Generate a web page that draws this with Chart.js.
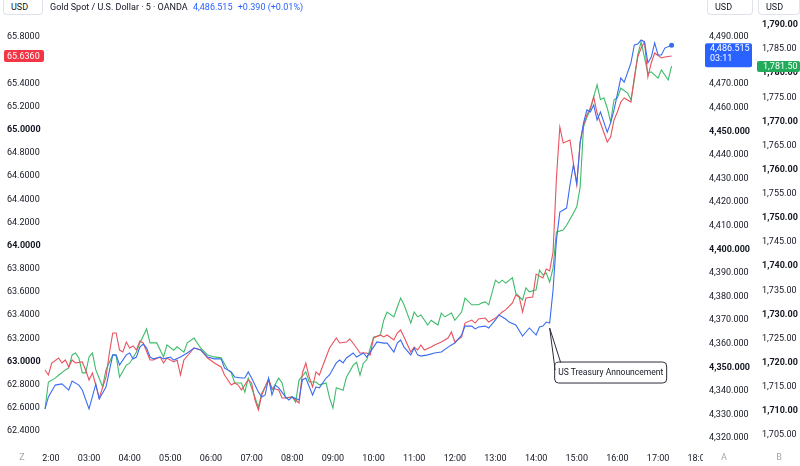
<!DOCTYPE html>
<html><head><meta charset="utf-8">
<script src="https://cdn.jsdelivr.net/npm/chart.js@4.4.1/dist/chart.umd.min.js"></script>
<style>
html,body{margin:0;padding:0;background:#fff;}
#wrap{position:relative;width:800px;height:466px;font-family:Roboto,"Liberation Sans",sans-serif;overflow:hidden;}
canvas{position:absolute;left:0;top:0;}
.hdr{position:absolute;top:0;font-size:9px;color:#131722;white-space:nowrap;line-height:14px}
.usd{position:absolute;top:0;height:15px;border:1px solid #e0e3eb;border-top:none;border-radius:0 0 4px 4px;font-size:9px;line-height:14px;color:#131722;box-sizing:border-box;padding-left:7px;background:#fff}
</style></head>
<body><div id="wrap"><canvas id="c" width="800" height="466"></canvas>
<div class="usd" style="left:3px;width:40px">USD</div>
<div class="usd" style="left:707px;width:46px">USD</div>
<div class="usd" style="left:758px;width:42px">USD</div>
<div class="hdr" style="left:50px">Gold Spot / U.S. Dollar · 5 · OANDA <span style="color:#2962ff;margin-left:3px">4,486.515</span> <span style="color:#2962ff;margin-left:3px">+0.390 (+0.01%)</span></div>
</div>
<script>
// ---- DATA ----
const hourTicks = [2,3,4,5,6,7,8,9,10,11,12,13,14,15,16,17,18];
const redTicks = [62.4,62.6,62.8,63.0,63.2,63.4,63.6,63.8,64.0,64.2,64.4,64.6,64.8,65.0,65.2,65.4,65.6,65.8];
const goldTicks = [4320,4330,4340,4350,4360,4370,4380,4390,4400,4410,4420,4430,4440,4450,4460,4470,4480,4490];
const greenTicks = [1705,1710,1715,1720,1725,1730,1735,1740,1745,1750,1755,1760,1765,1770,1775,1780,1785,1790];

// Gold Spot / U.S. Dollar (blue, middle right scale)
const goldSeries = [["01:55",4332.4],["02:00",4337.5],["02:10",4342.5],["02:20",4343.0],["02:30",4340.4],["02:35",4344.2],["02:45",4342.5],["02:50",4340.4],["03:00",4332.4],["03:10",4343.0],["03:15",4336.6],["03:25",4341.7],["03:35",4355.3],["03:40",4355.3],["03:45",4351.0],["03:55",4355.3],["04:00",4356.1],["04:05",4353.6],["04:10",4354.4],["04:15",4358.6],["04:20",4359.9],["04:25",4358.2],["04:30",4354.4],["04:35",4353.6],["04:45",4354.4],["04:50",4353.6],["05:00",4354.4],["05:05",4353.1],["05:15",4354.4],["05:25",4356.1],["05:35",4358.2],["05:45",4357.4],["05:55",4354.4],["06:05",4353.6],["06:15",4353.6],["06:20",4349.7],["06:30",4348.1],["06:35",4345.9],["06:45",4345.5],["06:50",4345.5],["06:55",4348.1],["07:00",4345.5],["07:10",4339.6],["07:15",4337.5],["07:20",4338.3],["07:25",4345.5],["07:30",4338.3],["07:35",4342.5],["07:40",4341.3],["07:50",4337.5],["07:55",4336.2],["08:00",4337.5],["08:10",4336.2],["08:15",4344.7],["08:20",4345.5],["08:30",4338.3],["08:35",4341.7],["08:40",4341.3],["08:50",4345.5],["08:55",4346.8],["09:05",4351.9],["09:10",4353.1],["09:15",4351.9],["09:20",4354.0],["09:30",4356.1],["09:35",4354.4],["09:45",4356.1],["09:50",4354.4],["10:00",4358.6],["10:05",4360.8],["10:15",4360.3],["10:20",4360.3],["10:30",4356.5],["10:35",4360.3],["10:40",4361.6],["10:45",4358.6],["10:55",4355.3],["11:00",4358.2],["11:05",4355.3],["11:10",4354.8],["11:20",4355.3],["11:30",4356.1],["11:40",4356.5],["11:50",4358.6],["11:55",4359.5],["12:00",4360.3],["12:10",4363.7],["12:15",4367.5],["12:25",4367.5],["12:30",4366.3],["12:35",4367.1],["12:45",4367.5],["12:50",4366.7],["13:00",4370.1],["13:05",4372.2],["13:15",4370.5],["13:20",4369.2],["13:30",4368.0],["13:40",4363.3],["13:45",4365.0],["13:50",4366.7],["14:00",4363.7],["14:05",4367.1],["14:10",4367.5],["14:15",4369.2],["14:20",4368.8],["14:25",4382.8],["14:30",4404.0],["14:35",4415.8],["14:45",4417.5],["14:50",4427.3],["14:55",4435.8],["15:00",4428.1],["15:05",4445.1],["15:10",4453.6],["15:15",4459.1],["15:20",4458.2],["15:25",4461.2],["15:30",4454.8],["15:35",4458.2],["15:45",4449.7],["15:50",4453.6],["15:55",4459.1],["16:05",4472.6],["16:10",4470.9],["16:20",4479.0],["16:25",4486.6],["16:30",4487.0],["16:35",4488.7],["16:40",4487.9],["16:45",4479.0],["16:50",4481.5],["16:55",4487.5],["17:00",4482.4],["17:05",4482.4],["17:10",4485.3],["17:20",4486.515]];

// red series (left scale)
const redSeries = [["01:55",62.927],["02:00",62.884],["02:05",62.987],["02:15",63.030],["02:20",62.987],["02:25",63.013],["02:30",62.953],["02:35",63.013],["02:40",62.987],["02:50",62.996],["02:55",62.927],["03:00",62.841],["03:05",62.901],["03:10",62.797],["03:15",62.685],["03:25",62.866],["03:30",63.073],["03:35",63.246],["03:40",63.246],["03:45",63.099],["03:50",63.082],["03:55",63.168],["04:00",63.117],["04:05",63.134],["04:10",63.099],["04:15",63.177],["04:20",63.160],["04:30",63.013],["04:35",63.013],["04:45",63.039],["04:50",62.987],["04:55",63.030],["05:05",62.996],["05:10",63.013],["05:15",62.884],["05:20",63.013],["05:30",63.082],["05:35",63.117],["05:45",63.099],["05:55",63.030],["06:05",62.987],["06:15",62.953],["06:20",62.884],["06:30",62.797],["06:35",62.815],["06:40",62.797],["06:45",62.754],["06:55",62.841],["07:00",62.815],["07:05",62.668],["07:10",62.582],["07:15",62.711],["07:25",62.849],["07:30",62.772],["07:40",62.754],["07:45",62.685],["07:50",62.685],["08:00",62.694],["08:10",62.642],["08:15",62.901],["08:20",62.987],["08:25",62.866],["08:30",62.780],["08:35",62.910],["08:40",62.884],["08:50",63.039],["08:55",63.117],["09:05",63.203],["09:10",63.160],["09:20",63.168],["09:25",63.194],["09:35",63.117],["09:40",63.073],["09:50",63.073],["09:55",63.056],["10:00",63.203],["10:10",63.229],["10:15",63.212],["10:20",63.229],["10:30",63.186],["10:35",63.246],["10:40",63.272],["10:45",63.212],["10:55",63.082],["11:00",63.125],["11:05",63.099],["11:10",63.143],["11:15",63.099],["11:25",63.125],["11:30",63.143],["11:40",63.168],["11:50",63.203],["11:55",63.255],["12:00",63.168],["12:10",63.212],["12:15",63.332],["12:25",63.358],["12:30",63.332],["12:35",63.367],["12:45",63.375],["12:50",63.341],["13:00",63.375],["13:05",63.401],["13:10",63.427],["13:15",63.445],["13:25",63.505],["13:30",63.574],["13:35",63.557],["13:40",63.427],["13:45",63.548],["13:55",63.557],["14:00",63.755],["14:10",63.721],["14:15",63.798],["14:20",63.781],["14:25",63.945],["14:30",64.583],["14:35",65.023],["14:40",64.885],["14:50",64.911],["14:55",64.713],["15:00",64.523],["15:05",64.894],["15:10",65.041],["15:15",65.127],["15:20",65.187],["15:25",65.282],["15:30",65.144],["15:35",65.058],["15:45",64.894],["15:50",64.937],["15:55",65.084],["16:00",65.153],["16:05",65.239],["16:10",65.274],["16:20",65.239],["16:25",65.455],["16:30",65.627],["16:35",65.705],["16:40",65.757],["16:45",65.455],["16:50",65.576],["16:55",65.662],["17:05",65.619],["17:10",65.627],["17:20",65.636]];

// green series (far right scale)
const greenSeries = [["01:55",1710.4],["02:00",1716.0],["02:10",1716.8],["02:15",1717.4],["02:25",1718.5],["02:30",1718.9],["02:35",1721.6],["02:40",1722.0],["02:45",1721.0],["02:50",1717.9],["02:55",1717.9],["03:00",1721.2],["03:05",1722.0],["03:10",1718.5],["03:20",1715.0],["03:25",1718.5],["03:35",1721.6],["03:40",1721.4],["03:45",1717.0],["03:55",1719.5],["04:00",1719.9],["04:10",1722.2],["04:15",1724.1],["04:25",1727.0],["04:30",1724.1],["04:40",1724.1],["04:50",1721.2],["04:55",1723.7],["05:05",1722.6],["05:10",1723.3],["05:20",1722.2],["05:25",1724.1],["05:35",1725.1],["05:45",1723.0],["05:55",1721.6],["06:05",1721.2],["06:15",1721.0],["06:25",1718.5],["06:30",1717.9],["06:35",1715.8],["06:45",1715.8],["06:50",1713.9],["06:55",1716.8],["07:00",1714.8],["07:10",1710.8],["07:15",1713.7],["07:25",1716.4],["07:30",1714.3],["07:40",1716.8],["07:45",1715.8],["07:50",1712.7],["08:00",1712.9],["08:05",1711.8],["08:10",1716.4],["08:20",1718.1],["08:25",1716.0],["08:35",1716.0],["08:40",1715.4],["08:50",1715.8],["08:55",1712.7],["09:00",1710.6],["09:05",1714.8],["09:15",1714.3],["09:20",1717.0],["09:30",1719.5],["09:35",1720.1],["09:40",1717.4],["09:45",1719.9],["09:50",1720.6],["10:00",1725.3],["10:05",1725.5],["10:10",1725.7],["10:15",1728.8],["10:20",1730.5],["10:30",1729.5],["10:35",1731.5],["10:40",1733.4],["10:45",1732.0],["10:55",1728.2],["11:00",1730.5],["11:05",1729.5],["11:10",1729.9],["11:20",1727.8],["11:25",1728.8],["11:35",1727.8],["11:40",1730.3],["11:45",1729.5],["11:55",1730.3],["12:00",1728.8],["12:10",1730.5],["12:15",1733.4],["12:25",1732.0],["12:35",1732.0],["12:40",1732.4],["12:45",1732.6],["12:50",1732.0],["13:00",1737.1],["13:05",1736.5],["13:10",1737.1],["13:15",1736.5],["13:25",1737.6],["13:30",1734.4],["13:40",1733.0],["13:45",1735.5],["13:50",1734.7],["14:00",1735.1],["14:05",1739.2],["14:10",1738.2],["14:15",1738.6],["14:20",1736.7],["14:25",1739.6],["14:30",1747.1],["14:40",1747.5],["14:45",1748.5],["14:55",1751.0],["15:00",1752.3],["15:05",1756.4],["15:10",1768.9],["15:15",1770.9],["15:20",1772.4],["15:25",1775.1],["15:30",1777.6],["15:35",1774.5],["15:40",1774.9],["15:45",1772.8],["15:50",1769.9],["15:55",1774.5],["16:00",1774.9],["16:05",1776.9],["16:15",1775.9],["16:20",1774.5],["16:25",1778.6],["16:30",1783.8],["16:35",1786.5],["16:45",1780.0],["16:50",1780.3],["17:00",1779.0],["17:05",1780.7],["17:15",1778.6],["17:20",1781.5]];

const announcement = { time: "14:20", text: "US Treasury Announcement" };
const countdown = "03:11";

// ---- helpers ----
const toHour = t => { const [h, m] = t.split(":").map(Number); return h + m / 60; };
const toPoints = s => s.map(([t, v]) => ({ x: toHour(t), y: v }));
const fmtComma = (v, d) => v.toLocaleString("en-US", { minimumFractionDigits: d, maximumFractionDigits: d });

const FONT = "Roboto";
Chart.defaults.font.family = FONT;

const lastGold = goldSeries[goldSeries.length - 1][1];
const lastRed = redSeries[redSeries.length - 1][1];
const lastGreen = greenSeries[greenSeries.length - 1][1];

const overlay = {
  id: "overlay",
  afterDraw(chart) {
    const { ctx, chartArea: a, scales } = chart;
    const W = chart.width, H = chart.height;
    ctx.save();
    ctx.fillStyle = "#fff";
    ctx.fillRect(0, a.bottom + 1, a.left, H - a.bottom);
    ctx.fillRect(a.right, a.bottom + 1, W - a.right, H - a.bottom);
    ctx.font = "9px " + FONT;
    ctx.fillStyle = "#a3a6af";
    ctx.textAlign = "center";
    ctx.textBaseline = "middle";
    ctx.fillText("Z", 22, 458);
    ctx.fillText("A", 724, 458);
    ctx.fillText("B", 779, 458);

    ctx.textAlign = "left";
    ctx.font = "9px " + FONT;
    const yr = scales.yRed.getPixelForValue(lastRed);
    ctx.fillStyle = "#f23645";
    ctx.beginPath(); ctx.roundRect(4, yr - 6, 40, 12, 2); ctx.fill();
    ctx.fillStyle = "#fff";
    ctx.fillText(lastRed.toFixed(4), 7, yr + 0.5);

    const yg = scales.yGold.getPixelForValue(lastGold);
    ctx.fillStyle = "#2962ff";
    ctx.beginPath(); ctx.roundRect(705, yg - 2, 47, 24, 2); ctx.fill();
    ctx.fillStyle = "#fff";
    ctx.fillText(fmtComma(lastGold, 3), 710, yg + 3.5);
    ctx.fillText(countdown, 710, yg + 13.5);

    const yp = scales.yGreen.getPixelForValue(lastGreen);
    ctx.fillStyle = "#22ab5a";
    ctx.beginPath(); ctx.roundRect(757, yp - 5, 43, 11, 2); ctx.fill();
    ctx.fillStyle = "#fff";
    ctx.fillText(fmtComma(lastGreen, 2), 763, yp + 1);

    const gv = goldSeries.find(p => p[0] === announcement.time)[1];
    const ax = scales.x.getPixelForValue(toHour(announcement.time));
    const ay = scales.yGold.getPixelForValue(gv) + 5;
    const bx = ax + 5, by = ay + 34, bw = 112, bh = 21;
    ctx.strokeStyle = "#2a2e39"; ctx.lineWidth = 1;
    ctx.fillStyle = "#fff";
    ctx.beginPath(); ctx.roundRect(bx, by, bw, bh, 4); ctx.fill(); ctx.stroke();
    ctx.beginPath();
    ctx.moveTo(bx + 0.5, by + 8); ctx.lineTo(ax, ay); ctx.lineTo(bx + 6, by + 0.5);
    ctx.stroke();
    ctx.fillStyle = "#fff";
    ctx.fillRect(bx + 1, by + 1, 5, 6);
    ctx.fillStyle = "#131722"; ctx.font = "8.5px " + FONT;
    ctx.textAlign = "center"; ctx.textBaseline = "middle";
    ctx.fillText(announcement.text, bx + bw / 2, by + bh / 2 + 0.5);
    ctx.restore();
  }
};

const tickFont = bold => ({ size: 9, family: FONT, weight: bold ? "bold" : "normal" });
const tv = c => (c && c.tick) ? c.tick.value : NaN;
const noGrid = { display: false, drawTicks: false };

new Chart(document.getElementById("c"), {
  type: "line",
  data: {
    datasets: [
      { label: "Gold Spot / U.S. Dollar", data: toPoints(goldSeries), yAxisID: "yGold", borderColor: "#3b6cf0", borderWidth: 1.1,
        pointRadius: c => c.dataIndex === goldSeries.length - 1 ? 2.5 : 0, pointBackgroundColor: "#3b6cf0", pointBorderWidth: 0 },
      { label: "Left scale series", data: toPoints(redSeries), yAxisID: "yRed", borderColor: "#e8525e", borderWidth: 1.1, pointRadius: 0 },
      { label: "Right scale series", data: toPoints(greenSeries), yAxisID: "yGreen", borderColor: "#3dbb6a", borderWidth: 1.1, pointRadius: 0 }
    ]
  },
  options: {
    responsive: false,
    animation: false,
    layout: { padding: { top: 25, left: 7, right: 0, bottom: 0 } },
    plugins: { legend: { display: false }, tooltip: { enabled: false } },
    elements: { line: { tension: 0 } },
    scales: {
      x: {
        type: "linear", min: 1.8425, max: 18.106,
        grid: noGrid, border: { display: false },
        afterFit: s => { s.height = 21; },
        afterBuildTicks: s => { s.ticks = hourTicks.map(v => ({ value: v })); },
        ticks: { color: "#131722", font: { size: 9, family: FONT }, padding: 8, maxRotation: 0, autoSkip: false,
          callback: v => String(v).padStart(2, "0") + ":00" }
      },
      yRed: {
        position: "left", min: 62.2797, max: 65.9035,
        grid: noGrid, border: { display: false },
        afterFit: s => { s.width = 35; },
        afterBuildTicks: s => { s.ticks = redTicks.map(v => ({ value: v })); },
        ticks: { color: "#131722", crossAlign: "far", padding: 0, autoSkip: false,
          font: c => { const v = tv(c); return tickFont(Math.abs(v - Math.round(v)) < 1e-6); },
          callback: v => v.toFixed(4) }
      },
      yGold: {
        position: "right", weight: 0, min: 4317.12, max: 4495.08,
        grid: noGrid, border: { display: false },
        afterFit: s => { s.width = 52; },
        afterBuildTicks: s => { s.ticks = goldTicks.map(v => ({ value: v })); },
        ticks: { color: "#131722", crossAlign: "near", padding: 6, autoSkip: false,
          font: c => tickFont(tv(c) % 50 === 0),
          callback: v => fmtComma(v, 3) }
      },
      yGreen: {
        position: "right", weight: 1, min: 1702.94, max: 1790,
        grid: noGrid, border: { display: false },
        afterFit: s => { s.width = 45; },
        afterBuildTicks: s => { s.ticks = greenTicks.map(v => ({ value: v })); },
        ticks: { color: "#131722", crossAlign: "near", padding: 7, autoSkip: false,
          font: c => tickFont(tv(c) % 10 === 0),
          callback: v => fmtComma(v, 2) }
      }
    }
  },
  plugins: [overlay]
});
</script>
</body></html>
